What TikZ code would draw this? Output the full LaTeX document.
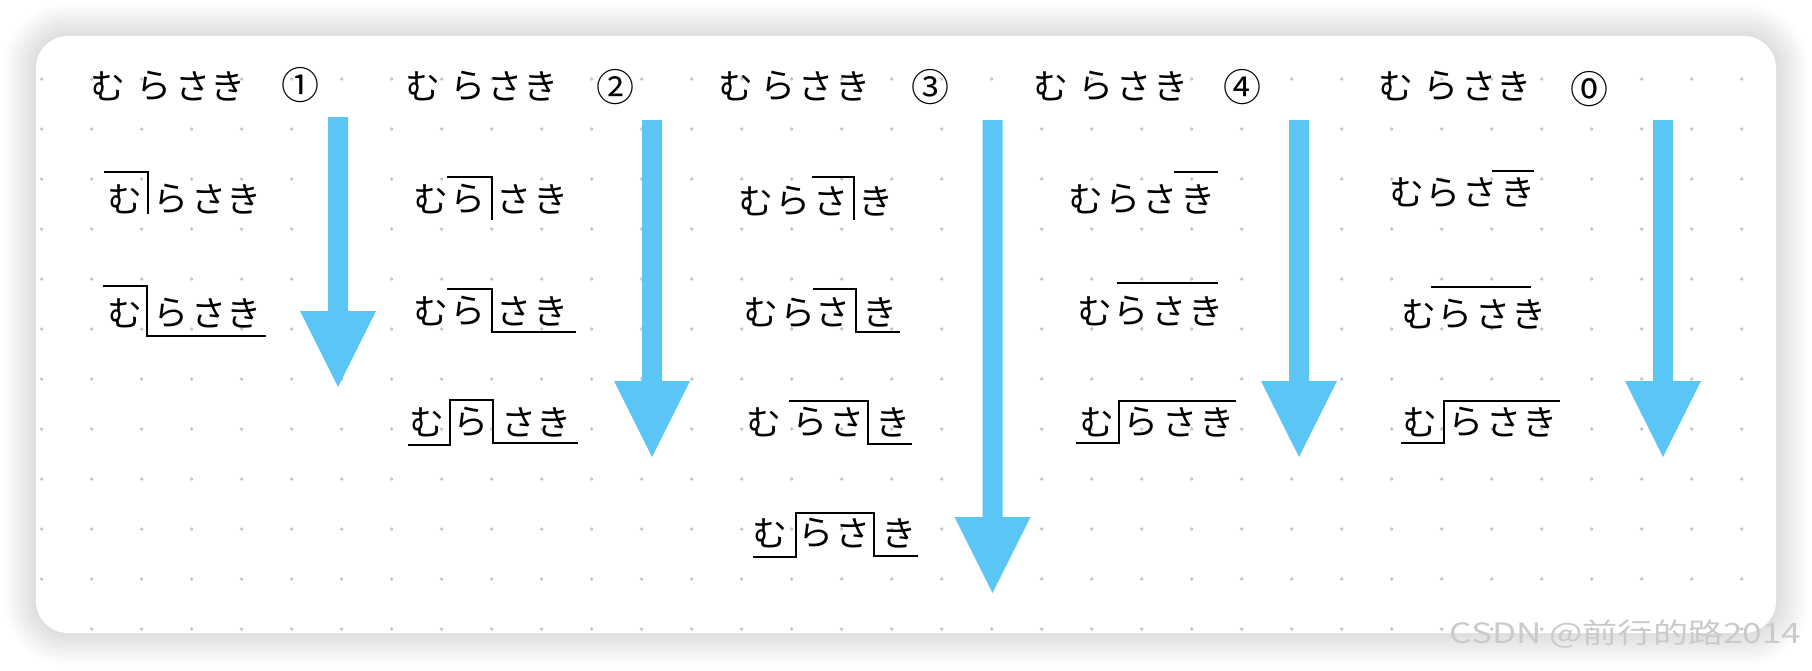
\documentclass[tikz,border=0pt]{standalone}
\usepackage{fontspec}
\setmainfont{Noto Sans CJK JP}
\newfontfamily\wmfont{Noto Sans CJK JP}
\definecolor{arrowblue}{HTML}{5BC5F5}
\definecolor{dotgray}{HTML}{C4C4C4}
\definecolor{wmgray}{HTML}{CACACA}
\newcommand\kanarow[6]{%
  \node[kana] (#1m) at (#3,#2) {む};
  \node[kana] (#1r) at (#4,#2) {ら};
  \node[kana] (#1s) at (#5,#2) {さ};
  \node[kana] (#1k) at (#6,#2) {き};}
\newcommand\BlueArrow[4]{%
  \fill[arrowblue] ({#1-10},#2) -- ({#1+10},#2) -- ({#1+10},#3) -- ({#1+38},#3)
    -- (#1,#4) -- ({#1-38},#3) -- ({#1-10},#3) -- cycle;}
\begin{document}
\begin{tikzpicture}[x=1pt,y=-1pt,
  kana/.style={inner sep=0pt, anchor=center, font=\fontsize{35}{40}\selectfont},
  circnum/.style={inner sep=0pt, anchor=center, font=\fontsize{38}{40}\selectfont},
  accent/.style={line width=2pt, line join=miter, black}]
\useasboundingbox (0,0) rectangle (1812,670);
% shadow
\foreach \k in {1,...,16}
  \fill[black, opacity=0.009, rounded corners={32pt+2pt*\k}]
    ({36-2*\k},{36-2*\k}) rectangle ({1776+2*\k},{633+2*\k});
% card
\fill[white, rounded corners=32pt] (36,36) rectangle (1776,633);
% dots
\begin{scope}
  \clip[rounded corners=32pt] (36,36) rectangle (1776,633);
  \foreach \i in {0,...,34}
    \foreach \j in {0,...,11}
      \fill[dotgray] ({41.7+50*\i},{79+50*\j}) circle[radius=1.8pt];
\end{scope}
% arrows
\BlueArrow{338}{117}{311}{387}
\BlueArrow{652}{120}{381}{457}
\BlueArrow{992.5}{120}{517}{593}
\BlueArrow{1299}{120}{381}{457}
\BlueArrow{1663}{120}{381}{457}
% column 1
\kanarow{ta}{86}{108}{153.5}{192.5}{227.5}
\node[circnum] (n1) at (300.5,85.5) {①};
\kanarow{ra}{199}{125}{170.5}{208.5}{244}
\kanarow{rb}{313}{125}{170.5}{208.5}{244}
% column 2
\kanarow{tb}{86}{422.5}{467.5}{505}{541}
\node[circnum] (n2) at (615,87) {②};
\kanarow{rc}{199}{430.5}{467.5}{513.5}{550.5}
\kanarow{rd}{311}{430.5}{467.5}{513.5}{550.5}
\kanarow{re}{422}{427}{470.5}{518.5}{554}
% column 3
\kanarow{tc}{86}{736}{777.5}{816}{852.5}
\node[circnum] (n3) at (930.5,87) {③};
\kanarow{rf}{201}{756}{792.5}{831}{875.5}
\kanarow{rg}{312.5}{761}{797.5}{833}{880}
\kanarow{rh}{422}{764}{810}{846.5}{892.5}
\kanarow{ri}{533}{770}{815.5}{852.5}{899}
% column 4
\kanarow{td}{86}{1050.5}{1095.5}{1134}{1171}
\node[circnum] (n4) at (1242.5,87) {④};
\kanarow{rj}{199}{1086}{1122.5}{1160}{1197.5}
\kanarow{rk}{311}{1094.5}{1130.5}{1168.5}{1205.5}
\kanarow{rl}{422}{1096.5}{1141}{1180}{1216.5}
% column 5
\kanarow{te}{86}{1395.5}{1440.5}{1479}{1514}
\node[circnum] (n0) at (1589,89) {⓪};
\kanarow{rm}{192.5}{1407}{1442.5}{1480}{1517.5}
\kanarow{rn}{314}{1418.5}{1454.5}{1492.5}{1529}
\kanarow{ro}{422}{1420}{1465.5}{1503.5}{1540}
% accent lines
\draw[accent] (104,172) -- (148,172) -- (148,214);
\draw[accent] (103,286) -- (147,286) -- (147,336) -- (266,336);
\draw[accent] (447,177) -- (492,177) -- (492,220);
\draw[accent] (447,289) -- (492,289) -- (492,332) -- (576,332);
\draw[accent] (408,445) -- (450,445) -- (450,400) -- (493,400) -- (493,443) -- (578,443);
\draw[accent] (812,177) -- (854,177) -- (854,220);
\draw[accent] (813,289) -- (856,289) -- (856,332) -- (900,332);
\draw[accent] (789,401) -- (868,401) -- (868,444) -- (912,444);
\draw[accent] (753,557) -- (796,557) -- (796,513) -- (874,513) -- (874,556) -- (918,556);
\draw[accent] (1174,172) -- (1218,172);
\draw[accent] (1117,283) -- (1218,283);
\draw[accent] (1076,443) -- (1119,443) -- (1119,401) -- (1236,401);
\draw[accent] (1492,171) -- (1534,171);
\draw[accent] (1431,287) -- (1531,287);
\draw[accent] (1401,443) -- (1444,443) -- (1444,401) -- (1560,401);
% watermark
\node[inner sep=0pt, anchor=center, text=wmgray, font=\wmfont\fontsize{28}{30}\selectfont] (wm) at (1625.5,634) {\scalebox{1.256}[1]{CSDN @前行的路2014}};
\end{tikzpicture}
\end{document}
